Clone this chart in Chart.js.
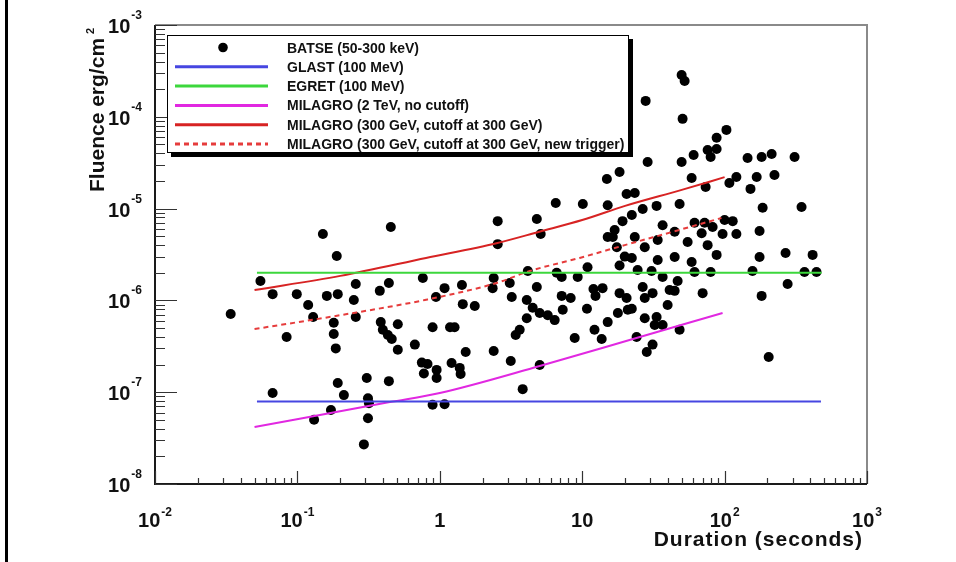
<!DOCTYPE html>
<html><head><meta charset="utf-8">
<script src="https://cdn.jsdelivr.net/npm/chart.js@4/dist/chart.umd.min.js"></script>
<style>html,body{margin:0;padding:0;background:#fff;overflow:hidden}canvas{display:block}</style>
</head><body>
<canvas id="c" width="956" height="562"></canvas>
<script>
// ---- data ----
const batseDuration = [
 0.034,0.055,0.067,0.099,0.151,0.161,0.192,0.189,0.249,0.257,
 0.379,0.439,0.453,0.119,0.129,0.180,0.180,0.186,0.084,0.257,
 0.385,0.398,0.432,0.46,0.507,0.507,0.668,0.748,0.773,0.192,
 0.212,0.307,0.439,0.067,0.313,0.318,0.172,0.131,0.313,0.293,
 0.76,18.3,14.9,20.5,6.52,10.1,15.1,2.55,4.80,5.11,
 2.55,19.2,16.9,15.1,16.4,17.5,19.9,18.3,10.9,6.62,
 7.18,9.3,4.15,2.39,1.08,0.94,1.43,3.10,2.35,4.80,
 3.20,4.08,7.18,8.3,12.0,13.9,12.4,18.3,1.45,1.76,
 0.89,1.18,1.27,0.82,0.95,0.95,1.21,1.38,1.40,1.52,
 2.39,3.15,3.41,3.64,4.08,4.49,5.03,5.73,6.41,7.30,
 10.8,8.86,12.2,13.7,15.1,17.8,20.9,5.03,3.82,0.89,
 1.08,
 49.9,52.4,27.9,50.7,103,87.9,76.0,87.9,79.8,60.6,
 49.9,28.8,145,182,214,310,58.7,73.6,108,121,
 168,224,152,23.4,26.6,33.3,48.3,185,347,22.3,
 100,114,176,96.8,121,36.7,44.6,61.5,72.4,82.4,
 69.0,27.5,33.9,55.0,76.0,87.9,176,268,415,23.4,
 22.3,33.9,44.6,58.7,24.5,30.7,36.7,46.8,61.5,79.8,
 157,364,442,277,182,70.1,26.6,31.2,27.5,41.1,
 44.6,39.8,20.5,22.3,27.5,33.3,32.3,36.7,48.3,24.1,
 31.2,28.4,204
];
const batseFluence = [
 7.1e-7,1.63e-6,1.17e-6,1.17e-6,5.3e-6,1.12e-6,1.17e-6,3.05e-6,1.01e-6,1.51e-6,
 1.27e-6,1.55e-6,6.3e-6,8.9e-7,6.6e-7,5.7e-7,4.3e-7,3.0e-7,4.0e-7,6.6e-7,
 5.8e-7,4.8e-7,4.2e-7,3.8e-7,5.5e-7,2.9e-7,3.3e-7,2.1e-7,1.6e-7,1.26e-7,
 9.3e-8,1.43e-7,1.32e-7,9.8e-8,8.6e-8,7.6e-8,6.4e-8,5.0e-8,5.2e-8,2.7e-8,
 1.75e-6,2.5e-5,2.1e-5,1.44e-5,1.15e-5,1.12e-5,1.09e-5,7.3e-6,7.7e-6,5.3e-6,
 4.1e-6,7.3e-6,5.85e-6,4.9e-6,4.9e-6,3.8e-6,3.0e-6,2.4e-6,2.3e-6,2.0e-6,
 1.8e-6,1.8e-6,2.09e-6,1.75e-6,1.36e-6,1.09e-6,1.47e-6,1.55e-6,1.36e-6,1.40e-6,
 1.09e-6,1.01e-6,1.12e-6,1.06e-6,1.33e-6,1.36e-6,1.12e-6,1.20e-6,9.1e-7,8.7e-7,
 5.1e-7,5.1e-7,5.1e-7,2.03e-7,1.75e-7,1.43e-7,2.08e-7,1.84e-7,1.58e-7,2.74e-7,
 2.81e-7,2.19e-7,4.2e-7,4.8e-7,6.4e-7,8.3e-7,7.3e-7,6.9e-7,6.1e-7,7.9e-7,
 8.1e-7,3.9e-7,4.8e-7,3.8e-7,5.8e-7,7.3e-7,7.9e-7,1.98e-7,1.08e-7,7.3e-8,
 7.4e-8,
 2.85e-4,2.45e-4,1.49e-4,9.5e-5,7.2e-5,5.9e-5,4.35e-5,4.46e-5,3.65e-5,3.84e-5,
 3.22e-5,3.22e-5,3.56e-5,3.65e-5,3.94e-5,3.65e-5,2.15e-5,1.72e-5,1.90e-5,2.21e-5,
 2.21e-5,2.32e-5,1.64e-5,1.48e-5,9.9e-6,1.07e-5,1.12e-5,1.02e-5,1.04e-5,8.5e-6,
 7.5e-6,7.3e-6,5.7e-6,5.3e-6,5.3e-6,6.6e-6,5.6e-6,7.0e-6,7.0e-6,6.3e-6,
 5.4e-6,3.8e-6,4.55e-6,4.33e-6,4.0e-6,3.13e-6,2.97e-6,3.28e-6,3.13e-6,4.9e-6,
 2.9e-6,2.75e-6,2.97e-6,2.62e-6,2.14e-6,2.09e-6,1.8e-6,1.63e-6,2.04e-6,2.04e-6,
 2.09e-6,2.04e-6,2.04e-6,1.51e-6,1.12e-6,1.20e-6,1.40e-6,1.20e-6,1.06e-6,1.30e-6,
 1.27e-6,8.9e-7,1.06e-6,8.1e-7,6.4e-7,6.6e-7,5.4e-7,5.4e-7,4.8e-7,4.0e-7,
 3.3e-7,2.74e-7,2.42e-7
];
const glastDuration = [0.052, 475];
const glastFluence = [7.9e-8, 7.9e-8];
const egretDuration = [0.052, 480];
const egretFluence = [2.0e-6, 2.0e-6];
const milagro2TeVDuration = [0.05, 0.446, 1, 5.03, 21.5, 96.8];
const milagro2TeVFluence = [4.18e-8, 7.8e-8, 9.8e-8, 1.93e-7, 3.7e-7, 7.3e-7];
const milagro300Duration = [0.05, 0.2, 0.8, 2.5, 5, 10, 20, 50, 100];
const milagro300Fluence = [1.3e-6, 1.85e-6, 2.9e-6, 4.2e-6, 5.6e-6, 7.5e-6, 1.07e-5, 1.6e-5, 2.2e-5];
const milagroNewDuration = [0.05, 0.2, 0.785, 2.51, 4.28, 9.6, 19.9, 48, 95];
const milagroNewFluence = [4.87e-7, 6.9e-7, 1.01e-6, 1.55e-6, 2.09e-6, 2.9e-6, 4.0e-6, 5.85e-6, 7.9e-6];
const seriesLabels = [
 'BATSE (50-300 keV)',
 'GLAST (100 MeV)',
 'EGRET (100 MeV)',
 'MILAGRO (2 TeV, no cutoff)',
 'MILAGRO (300 GeV, cutoff at 300 GeV)',
 'MILAGRO (300 GeV, cutoff at 300 GeV, new trigger)'
];
const xTickValues = [0.01, 0.1, 1, 10, 100, 1000];
const xTickLabels = [['10','-2'],['10','-1'],['1',''],['10',''],['10','2'],['10','3']];
const yTickValues = [1e-8, 1e-7, 1e-6, 1e-5, 1e-4, 1e-3];
const yTickLabels = [['10','-8'],['10','-7'],['10','-6'],['10','-5'],['10','-4'],['10','-3']];
const xTitle = 'Duration (seconds)';
const yTitle = 'Fluence erg/cm';
const yTitleSup = '2';

const FONT = '"Liberation Sans", Arial, Helvetica, sans-serif';
const pts = (xs, ys) => xs.map((x, i) => ({x, y: ys[i]}));

const lineDs = (label, xs, ys, color, dash, order) => ({
  type: 'line', label, data: pts(xs, ys), borderColor: color, backgroundColor: color,
  borderWidth: 2, borderDash: dash || [], pointRadius: 0, fill: false,
  cubicInterpolationMode: 'monotone', order
});

const frame = {
  id: 'frame',
  afterDatasetsDraw(chart) {
    const ctx = chart.ctx, a = chart.chartArea;
    const xs = chart.scales.x, ys = chart.scales.y;
    ctx.save();
    // outer left border
    ctx.fillStyle = '#000';
    ctx.fillRect(5, 0, 3, 562);
    // frame
    ctx.lineWidth = 2;
    ctx.strokeStyle = '#8a8a8a';
    ctx.beginPath();
    ctx.moveTo(a.left, a.top); ctx.lineTo(a.right, a.top); ctx.lineTo(a.right, a.bottom);
    ctx.stroke();
    ctx.strokeStyle = '#1a1a1a';
    ctx.beginPath();
    ctx.moveTo(a.left, a.top); ctx.lineTo(a.left, a.bottom); ctx.lineTo(a.right, a.bottom);
    ctx.stroke();
    // ticks
    ctx.lineWidth = 1.2;
    ctx.strokeStyle = '#333';
    ctx.beginPath();
    for (let i = 0; i < xTickValues.length; i++) {
      const d = xTickValues[i];
      for (let m = 1; m <= 9; m++) {
        const v = d * m;
        if (v > xTickValues[xTickValues.length - 1]) break;
        const px = Math.round(xs.getPixelForValue(v)) + 0.5;
        const len = m === 1 ? 13 : 6;
        ctx.moveTo(px, a.bottom); ctx.lineTo(px, a.bottom - len);
      }
    }
    for (let i = 0; i < yTickValues.length; i++) {
      const d = yTickValues[i];
      for (let m = 1; m <= 9; m++) {
        const v = d * m;
        if (v > yTickValues[yTickValues.length - 1] * 1.0001) break;
        const py = Math.round(ys.getPixelForValue(v)) + 0.5;
        const len = m === 1 ? 22 : 10;
        ctx.moveTo(a.left, py); ctx.lineTo(a.left + len, py);
      }
    }
    ctx.stroke();

    // tick labels
    ctx.fillStyle = '#111';
    ctx.textBaseline = 'alphabetic';
    const bigF = 'bold 20px ' + FONT, supF = 'bold 12px ' + FONT;
    xTickValues.forEach((v, i) => {
      const [b, e] = xTickLabels[i];
      ctx.font = bigF; const wb = ctx.measureText(b).width;
      ctx.font = supF; const we = e ? ctx.measureText(e).width + 1 : 0;
      const cx = xs.getPixelForValue(v);
      const x0 = cx - (wb + we) / 2;
      ctx.textAlign = 'left';
      ctx.font = bigF; ctx.fillText(b, x0, 527);
      if (e) { ctx.font = supF; ctx.fillText(e, x0 + wb + 1, 516); }
    });
    yTickValues.forEach((v, i) => {
      const [b, e] = yTickLabels[i];
      const py = ys.getPixelForValue(v);
      ctx.font = supF; const we = ctx.measureText(e).width;
      ctx.textAlign = 'right';
      ctx.fillText(e, 142, py - 6);
      ctx.font = bigF; ctx.fillText(b, 142 - we - 1, py + 8);
    });
    // axis titles
    ctx.font = 'bold 21px ' + FONT;
    ctx.textAlign = 'right';
    try { ctx.letterSpacing = '1px'; } catch (e) {}
    ctx.fillText(xTitle, 863, 546);
    try { ctx.letterSpacing = '0px'; } catch (e) {}
    ctx.save();
    ctx.translate(104, 192);
    ctx.rotate(-Math.PI / 2);
    ctx.textAlign = 'left';
    ctx.font = 'bold 21px ' + FONT;
    ctx.fillText(yTitle, 0, 0);
    const wt = ctx.measureText(yTitle).width;
    ctx.font = 'bold 11px ' + FONT;
    ctx.fillText(yTitleSup, wt + 4, -10);
    ctx.restore();

    // legend
    const L = 167, T = 35, R = 629, B = 153;
    ctx.fillStyle = '#000';
    ctx.fillRect(L + 4, T + 4, R - L, B - T);
    ctx.fillStyle = '#fff';
    ctx.fillRect(L, T, R - L, B - T);
    ctx.lineWidth = 1;
    ctx.strokeStyle = '#000';
    ctx.strokeRect(L + 0.5, T + 0.5, R - L - 1, B - T - 1);
    chart.data.datasets.forEach((ds, i) => {
      const y = 47.5 + i * 19.3;
      if (ds.type === 'scatter') {
        ctx.fillStyle = ds.backgroundColor;
        ctx.beginPath(); ctx.arc(223, y, 4.8, 0, Math.PI * 2); ctx.fill();
      } else {
        ctx.strokeStyle = ds.borderColor;
        ctx.lineWidth = 3;
        ctx.setLineDash(ds.borderDash && ds.borderDash.length ? [5, 4] : []);
        ctx.beginPath(); ctx.moveTo(175, y); ctx.lineTo(268, y); ctx.stroke();
        ctx.setLineDash([]);
      }
      ctx.fillStyle = '#111';
      ctx.font = 'bold 14px ' + FONT;
      ctx.textAlign = 'left';
      ctx.fillText(ds.label, 287, y + 5);
    });
    ctx.restore();
  }
};

new Chart(document.getElementById('c'), {
  data: {
    datasets: [
      { type: 'scatter', label: seriesLabels[0], data: pts(batseDuration, batseFluence),
        backgroundColor: '#000', borderColor: '#000', pointRadius: 5, borderWidth: 0, order: 10 },
      lineDs(seriesLabels[1], glastDuration, glastFluence, 'rgb(70,70,225)', null, 1),
      lineDs(seriesLabels[2], egretDuration, egretFluence, 'rgb(60,215,60)', null, 2),
      lineDs(seriesLabels[3], milagro2TeVDuration, milagro2TeVFluence, 'rgb(225,40,225)', null, 3),
      lineDs(seriesLabels[4], milagro300Duration, milagro300Fluence, 'rgb(215,35,35)', null, 4),
      lineDs(seriesLabels[5], milagroNewDuration, milagroNewFluence, 'rgb(230,60,60)', [5, 4], 5)
    ]
  },
  options: {
    responsive: false, animation: false, devicePixelRatio: 1,
    layout: { padding: { left: 155, right: 89, top: 25, bottom: 78 } },
    plugins: { legend: { display: false }, tooltip: { enabled: false } },
    scales: {
      x: { type: 'logarithmic', min: 0.01, max: 1000, display: false },
      y: { type: 'logarithmic', min: 1e-8, max: 1e-3, display: false }
    }
  },
  plugins: [frame]
});
</script>
</body></html>
